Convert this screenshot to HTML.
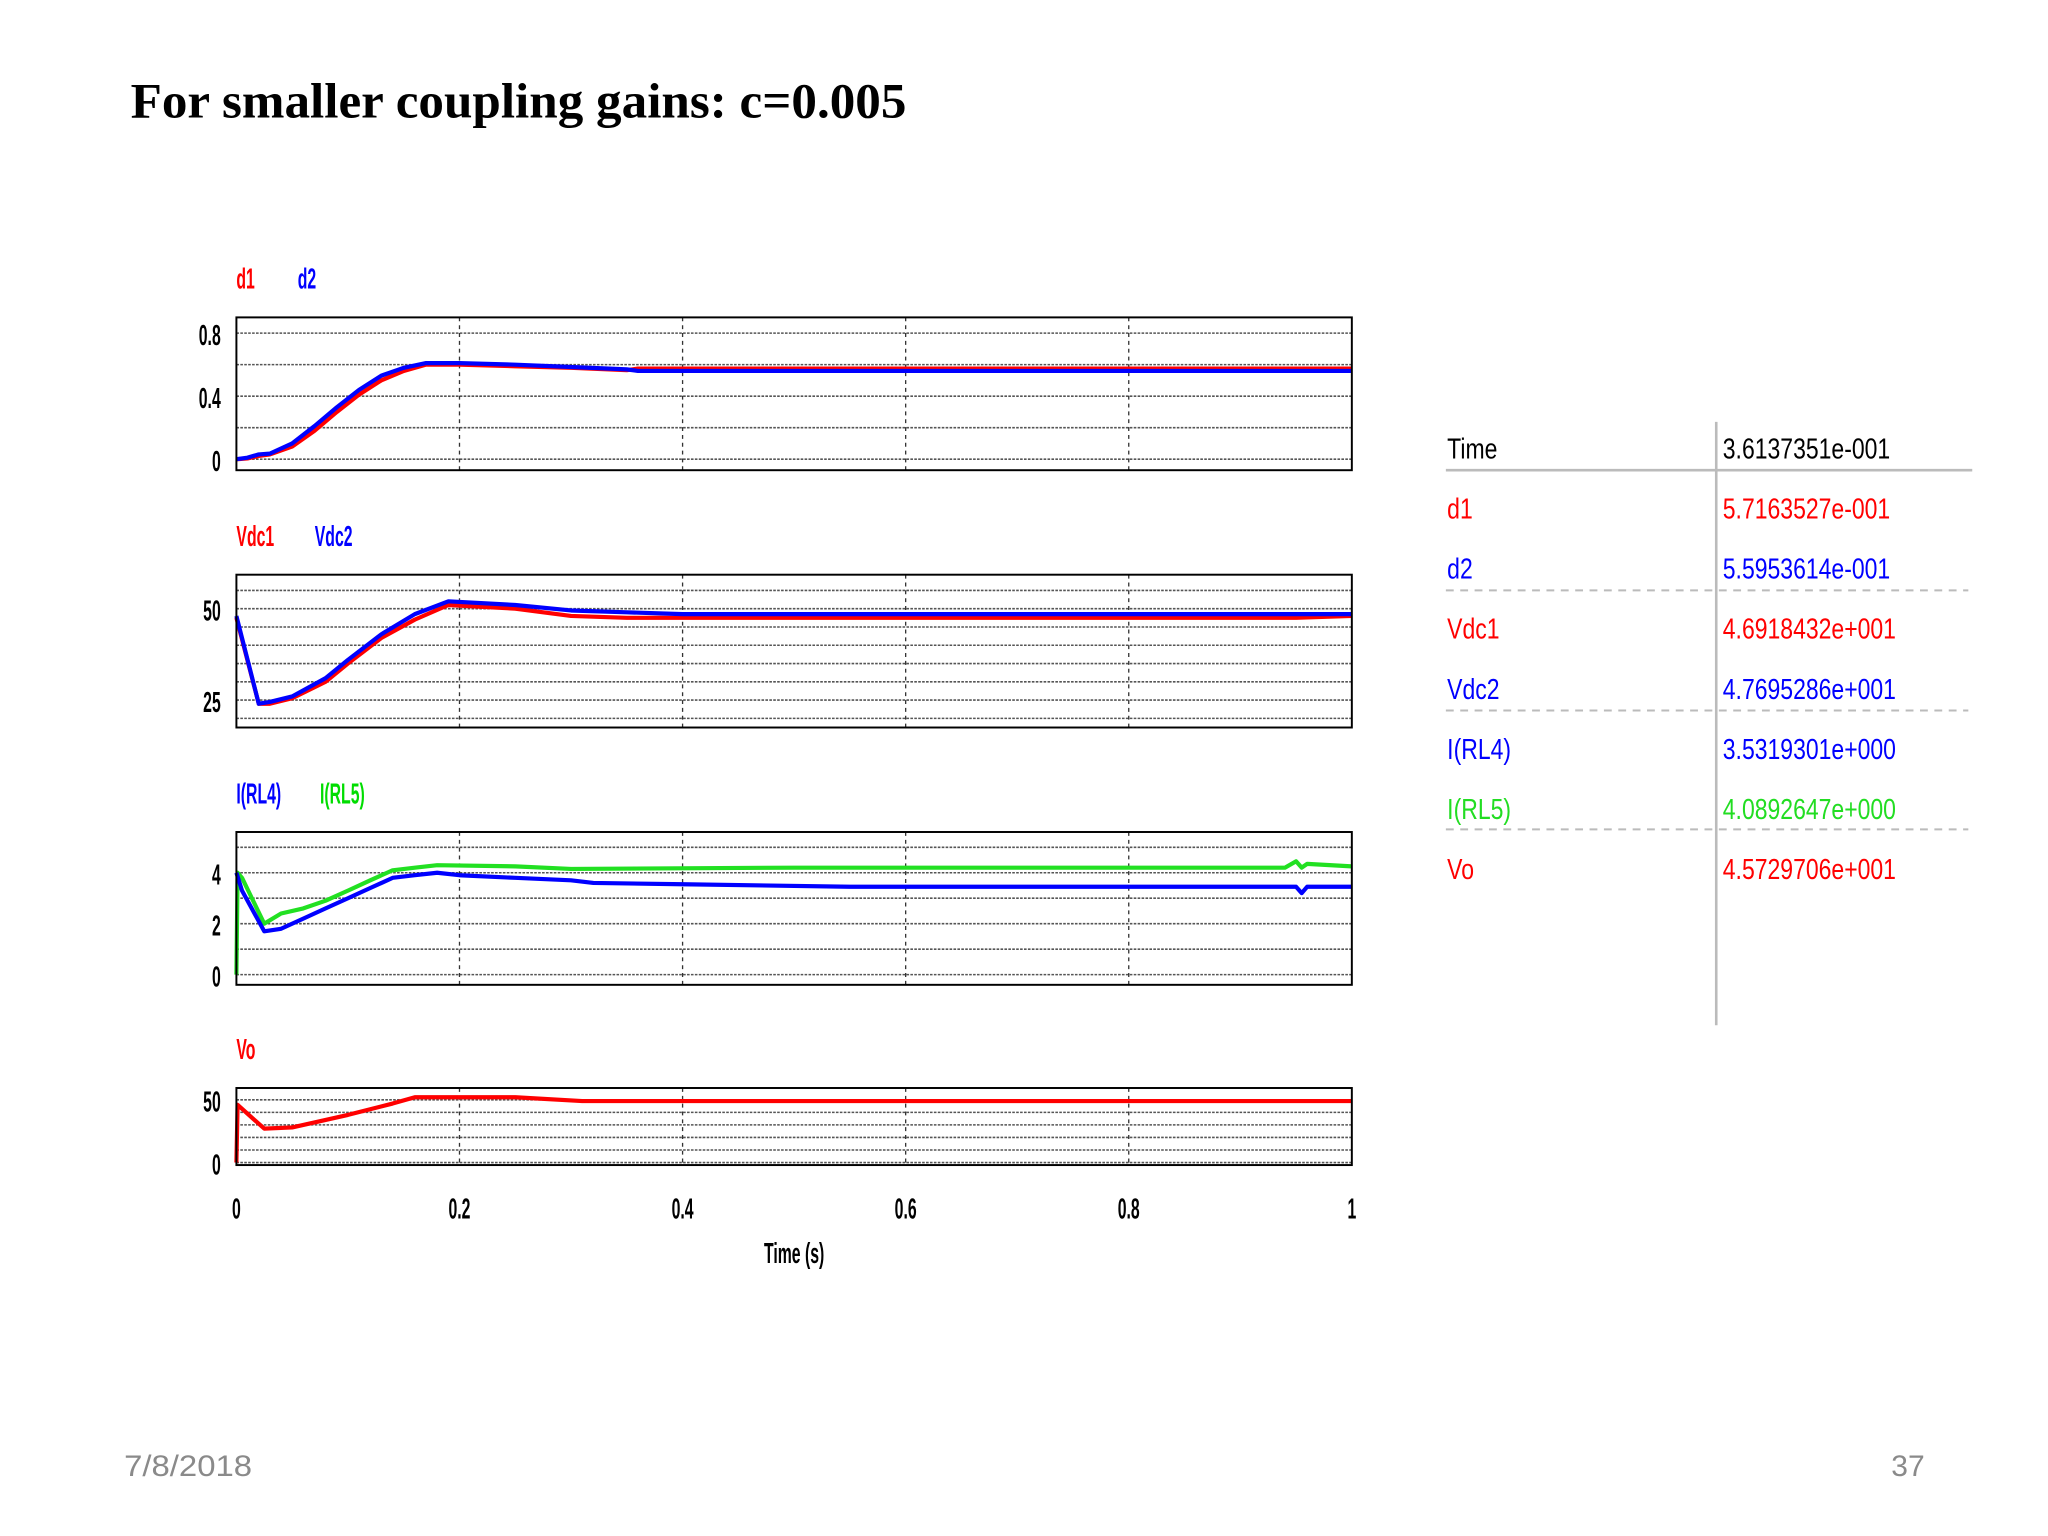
<!DOCTYPE html>
<html><head><meta charset="utf-8"><style>
html,body{margin:0;padding:0;background:#fff;}
svg{display:block;}
.ax{font-family:"Liberation Sans",sans-serif;font-size:22px;font-weight:bold;}
</style></head><body>
<svg id="chart" width="2048" height="1536" viewBox="0 0 1568 1176" xmlns="http://www.w3.org/2000/svg">
<rect width="1568" height="1176" fill="#fff"/>
<text x="100" y="90" font-family="Liberation Serif, serif" font-weight="bold" font-size="38" textLength="594" lengthAdjust="spacingAndGlyphs">For smaller coupling gains: c=0.005</text>
<g id="plots"></g>
<g id="table"></g>
<text x="95" y="1130" font-family="Liberation Sans, sans-serif" font-size="23" fill="#8a8a8a" textLength="98" lengthAdjust="spacingAndGlyphs">7/8/2018</text>
<text x="1448" y="1130" font-family="Liberation Sans, sans-serif" font-size="23" fill="#8a8a8a">37</text>
</svg>
<script>
const xTicks=[0,0.2,0.4,0.6,0.8,1];
const xTickLabels=["0","0.2","0.4","0.6","0.8","1"];
// d1/d2
const tD=[0,0.01,0.02,0.03,0.05,0.07,0.09,0.11,0.13,0.15,0.17,0.2,0.25,0.3,0.35,0.36,0.4,0.6,0.8,1.0];
const d1=[0,0.005,0.02,0.03,0.08,0.18,0.30,0.41,0.50,0.56,0.60,0.60,0.59,0.58,0.565,0.575,0.575,0.575,0.575,0.575];
const d2=[0,0.01,0.03,0.035,0.10,0.21,0.33,0.44,0.53,0.58,0.61,0.61,0.60,0.585,0.57,0.56,0.56,0.56,0.56,0.56];
// Vdc
const tV=[0,0.02,0.03,0.05,0.08,0.1,0.13,0.16,0.19,0.25,0.3,0.35,0.4,0.6,0.8,0.95,1.0];
const vdc1=[47.5,24,24,25.5,30,35,42,47,51,50,48,47.5,47.5,47.5,47.5,47.5,48];
const vdc2=[48,24,24.5,26,31,36,43,48.5,52,51,49.5,49,48.5,48.5,48.5,48.5,48.5];
// currents
const tI4=[0,0.005,0.025,0.04,0.06,0.08,0.1,0.12,0.14,0.16,0.18,0.2,0.25,0.3,0.32,0.4,0.55,0.95,0.955,0.96,1.0];
const iRL4=[4,3.3,1.7,1.8,2.2,2.6,3.0,3.4,3.8,3.9,4.0,3.9,3.8,3.7,3.6,3.55,3.45,3.45,3.2,3.45,3.45];
const tI5=[0,0.001,0.005,0.025,0.04,0.06,0.08,0.1,0.12,0.14,0.16,0.18,0.25,0.3,0.5,0.94,0.95,0.955,0.96,1.0];
const iRL5=[0,4,3.8,2.0,2.4,2.6,2.9,3.3,3.7,4.1,4.2,4.3,4.25,4.15,4.2,4.2,4.45,4.2,4.35,4.25];
// Vo
const tO=[0,0.001,0.025,0.05,0.1,0.14,0.16,0.25,0.31,1.0];
const vo=[0,46,27,28,38,47,52,52,49,49];

const plots=[
 {name:"duty",top:243,bot:360,ymin:-0.07,ymax:0.9,ticks:[0,0.4,0.8],tl:["0","0.4","0.8"],grid:[0,0.2,0.4,0.6,0.8],
  leg:[["d1","#f00",181],["d2","#00f",228]],series:[[tD,d1,"#f00","d1"],[tD,d2,"#00f","d2"]]},
 {name:"vdc",top:440,bot:557,ymin:17.5,ymax:59.3,ticks:[25,50],tl:["25","50"],grid:[20,25,30,35,40,45,50,55],
  leg:[["Vdc1","#f00",181],["Vdc2","#00f",241]],series:[[tV,vdc1,"#f00","vdc1"],[tV,vdc2,"#00f","vdc2"]]},
 {name:"current",top:637,bot:754,ymin:-0.4,ymax:5.6,ticks:[0,2,4],tl:["0","2","4"],grid:[0,1,2,3,4,5],
  leg:[["I(RL4)","#00f",181],["I(RL5)","#0d0",245]],series:[[tI5,iRL5,"#22e022","irl5"],[tI4,iRL4,"#00f","irl4"]]},
 {name:"vo",top:833,bot:892,ymin:-2,ymax:59.4,ticks:[0,50],tl:["0","50"],grid:[0,10,20,30,40,50],
  leg:[["Vo","#f00",181]],series:[[tO,vo,"#f00","vo"]]}
];
const NS="http://www.w3.org/2000/svg";
const X0=181,X1=1035,SX=0.55;
const xs=t=>X0+t*(X1-X0);
function mk(tag,attrs,parent,txt){const e=document.createElementNS(NS,tag);for(const k in attrs)e.setAttribute(k,attrs[k]);if(txt!==undefined)e.textContent=txt;parent.appendChild(e);return e;}
const G=document.getElementById("plots");
plots.forEach(p=>{
 const g=mk("g",{},G);
 
 
 const ys=v=>p.bot-(v-p.ymin)/(p.ymax-p.ymin)*(p.bot-p.top);
 p.grid.forEach(v=>{const l=mk("line",{x1:X0,x2:X1,y1:ys(v),y2:ys(v),stroke:"#555","stroke-width":1.2,"stroke-dasharray":"2,1"},g);
  
  });
 xTicks.slice(1,-1).forEach(t=>{const l=mk("line",{x1:xs(t),x2:xs(t),y1:p.top,y2:p.bot,stroke:"#333","stroke-width":1,"stroke-dasharray":"3,3"},g);
  
  });
 p.series.forEach(s=>{
  const pts=s[0].map((t,i)=>xs(t).toFixed(1)+","+ys(s[1][i]).toFixed(1)).join(" ");
  const pl=mk("polyline",{points:pts,fill:"none",stroke:s[2],"stroke-width":3.2,"stroke-linejoin":"round"},g);
  
  
 });
 const fr=mk("rect",{x:X0,y:p.top,width:X1-X0,height:p.bot-p.top,fill:"none",stroke:"#000","stroke-width":1.5},g);
 
 
 p.ticks.forEach((v,i)=>{const t=mk("text",{x:169/SX,y:ys(v)+9,"text-anchor":"end",class:"ax",transform:`scale(${SX},1)`},g,p.tl[i]);
  
  });
 p.leg.forEach(l=>{const t=mk("text",{x:l[2]/SX,y:p.top-22,fill:l[1],class:"ax",transform:`scale(${SX},1)`},g,l[0]);
  
  });
});
xTicks.forEach((t,i)=>{const e=mk("text",{x:xs(t)/SX,y:933,"text-anchor":"middle",class:"ax",transform:`scale(${SX},1)`},G,xTickLabels[i]);
 
 });
const xt=mk("text",{x:608/SX,y:967,"text-anchor":"middle",class:"ax",transform:`scale(${SX},1)`},G,"Time (s)");



// table
const rowLabels=["Time","d1","d2","Vdc1","Vdc2","I(RL4)","I(RL5)","Vo"];
const rowValues=["3.6137351e-001","5.7163527e-001","5.5953614e-001","4.6918432e+001","4.7695286e+001","3.5319301e+000","4.0892647e+000","4.5729706e+001"];
const rowColors=["#000","#f00","#00f","#f00","#00f","#00f","#2d2","#f00"];
const T=document.getElementById("table");
mk("line",{x1:1314,x2:1314,y1:323,y2:785,stroke:"#bbb","stroke-width":2},T);
mk("line",{x1:1107,x2:1510,y1:360,y2:360,stroke:"#bbb","stroke-width":2},T);
[452,544,635].forEach(y=>mk("line",{x1:1107,x2:1507,y1:y,y2:y,stroke:"#bbb","stroke-width":1.5,"stroke-dasharray":"6,5"},T));
rowLabels.forEach((l,i)=>{
 const y=351+i*46;
 const a=mk("text",{x:1108/0.8,y:y,fill:rowColors[i],"font-family":"Liberation Sans, sans-serif","font-size":22,transform:"scale(0.8,1)"},T,l);
 
 
 const b=mk("text",{x:1319/0.8,y:y,fill:rowColors[i],"font-family":"Liberation Sans, sans-serif","font-size":22,transform:"scale(0.8,1)"},T,rowValues[i]);
 
 
});
</script>
</body></html>
